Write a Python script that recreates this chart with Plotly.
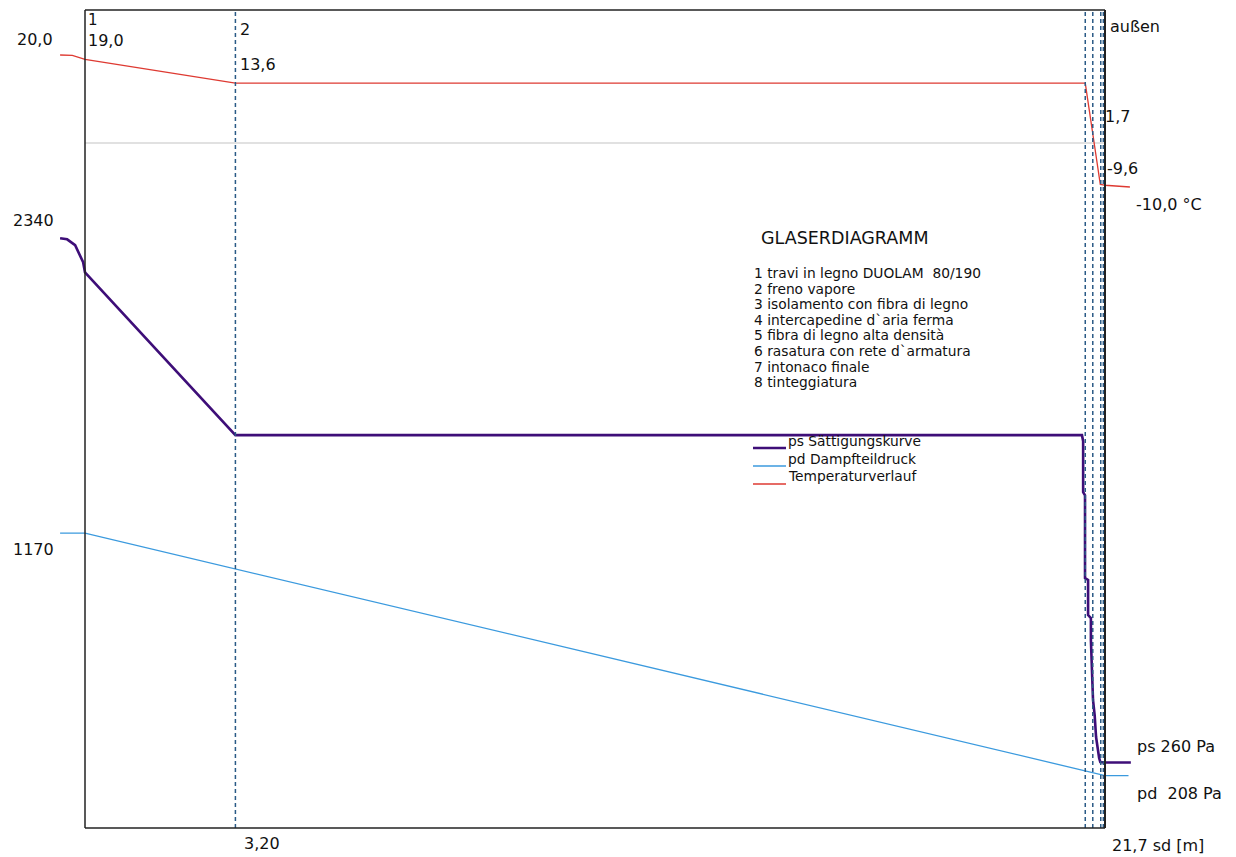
import plotly.graph_objects as go

# ---------------- data ----------------
# temperature profile (sd position in m, temperature in °C)
sd_temp = [-0.53, -0.27, 0.0, 3.20, 21.28, 21.44, 21.60, 21.66, 21.70, 22.23]
temp_c = [20.0, 19.9, 19.0, 13.6, 13.6, 1.7, -9.4, -9.5, -9.6, -10.0]

# saturation pressure ps (Pa)
sd_ps = [-0.53, -0.38, -0.21, -0.11, -0.04, 0.0, 3.20, 21.21, 21.235, 21.235,
         21.275, 21.275, 21.34, 21.34, 21.40, 21.40, 21.425, 21.445, 21.48,
         21.51, 21.575, 21.60, 21.70, 22.25]
ps_pa = [2340, 2336, 2313, 2273, 2245, 2205, 1559, 1559, 1535, 1333,
         1320, 992, 984, 845, 833, 746, 607, 508, 448,
         361, 278, 262, 260, 260]

# partial vapour pressure pd (Pa)
sd_pd = [-0.53, 0.0, 21.70, 22.20]
pd_pa = [1170, 1170, 208, 208]

# layer boundaries (sd, m)
layer_bounds = [3.20, 21.28, 21.44, 21.61, 21.665]
sd_total = 21.7
zero_temp = 0.0

layer_names = [
    "1 travi in legno DUOLAM \u00a080/190",
    "2 freno vapore",
    "3 isolamento con fibra di legno",
    "4 intercapedine d`aria ferma",
    "5 fibra di legno alta densità",
    "6 rasatura con rete d`armatura",
    "7 intonaco finale",
    "8 tinteggiatura",
]
legend_names = ["ps Sättigungskurve", "pd Dampfteildruck", "Temperaturverlauf"]

# ---------------- geometry ----------------
W, H = 1236, 857
X0PX, XKPX = 85, 1020 / 21.7          # px of sd=0, px per m
Y0PX, PSC = 828, 0.252                # px of 0 Pa, px per Pa
T20PX, TSC = 55, 4.4                  # px of 20 °C, px per °C

def fx(px):
    return px / W

def fy(py):
    return 1 - py / H

RED = "#de3a32"
PURPLE = "#3e0e78"
BLUE = "#3b9ade"
DASH = "#2a5a86"
FONT = "DejaVu Sans"

fig = go.Figure()
fig.add_trace(go.Scatter(x=sd_pd, y=pd_pa, mode="lines",
                         line=dict(color=BLUE, width=1.3), yaxis="y"))
fig.add_trace(go.Scatter(x=sd_ps, y=ps_pa, mode="lines",
                         line=dict(color=PURPLE, width=2.6), yaxis="y"))
fig.add_trace(go.Scatter(x=sd_temp, y=temp_c, mode="lines",
                         line=dict(color=RED, width=1.3), yaxis="y2"))

shapes = []
# zero degree line
shapes.append(dict(type="line", xref="x", yref="y2", x0=0, x1=sd_total,
                   y0=zero_temp, y1=zero_temp, line=dict(color="#c4c4c4", width=1.2),
                   layer="below"))
# layer boundaries
for b in layer_bounds:
    shapes.append(dict(type="line", xref="x", yref="paper", x0=b, x1=b,
                       y0=fy(828), y1=fy(10), line=dict(color=DASH, width=1.5, dash="4px,3px")))
# frame
frame = dict(color="#222222", width=1.5)
shapes.append(dict(type="line", xref="x", yref="paper", x0=0, x1=0, y0=fy(828), y1=fy(10), line=frame))
shapes.append(dict(type="line", xref="x", yref="paper", x0=0, x1=sd_total, y0=fy(10), y1=fy(10), line=frame))
shapes.append(dict(type="line", xref="x", yref="paper", x0=0, x1=sd_total, y0=fy(828), y1=fy(828), line=frame))
shapes.append(dict(type="line", xref="x", yref="paper", x0=sd_total, x1=sd_total, y0=fy(828), y1=fy(10),
                   line=dict(color="#222222", width=2)))
# legend samples
leg_cols = [(PURPLE, 2.6), (BLUE, 1.3), (RED, 1.3)]
leg_y = [448, 466, 484]
for (c, w), yy in zip(leg_cols, leg_y):
    shapes.append(dict(type="line", xref="paper", yref="paper", x0=fx(753), x1=fx(786),
                       y0=fy(yy), y1=fy(yy), line=dict(color=c, width=w)))

ann = []
def label(text, px, py, size=16, anchor="left"):
    ann.append(dict(text=text, x=fx(px), y=fy(py), xref="paper", yref="paper",
                    xanchor=anchor, yanchor="middle", showarrow=False,
                    font=dict(family=FONT, size=size, color="#111111")))

label("20,0", 15, 40)
label("2340", 11, 221)
label("1170", 11, 549)
label("1", 86, 20, size=15)
label("19,0", 86, 41)
label("2", 238, 30)
label("13,6", 238, 65)
label("außen", 1108, 26)
label("1,7", 1103, 116)
label("-9,6", 1105, 168)
label("-10,0 °C", 1134, 205)
label("ps 260 Pa", 1135, 746)
label("pd \u00a0208 Pa", 1135, 793)
label("3,20", 242, 843)
label("21,7 sd [m]", 1110, 845)
label("GLASERDIAGRAMM", 759, 238, size=17.5)
for i, t in enumerate(layer_names):
    label(t, 752, 273 + i * 15.6, size=13.8)
for t, yy in zip(legend_names, [441, 459, 476]):
    label(t, 786, yy, size=13.8)

fig.update_layout(
    width=W, height=H, margin=dict(l=0, r=0, t=0, b=0),
    paper_bgcolor="white", plot_bgcolor="white", showlegend=False,
    xaxis=dict(range=[-X0PX / XKPX, (W - X0PX) / XKPX], visible=False, domain=[0, 1]),
    yaxis=dict(range=[-(H - Y0PX) / PSC, Y0PX / PSC], visible=False, domain=[0, 1]),
    yaxis2=dict(range=[20 - (H - T20PX) / TSC, 20 + T20PX / TSC], visible=False,
                overlaying="y"),
    shapes=shapes, annotations=ann,
)

fig.write_html("out.html", config={"displayModeBar": False},
               post_script="document.body.style.margin='0';")
